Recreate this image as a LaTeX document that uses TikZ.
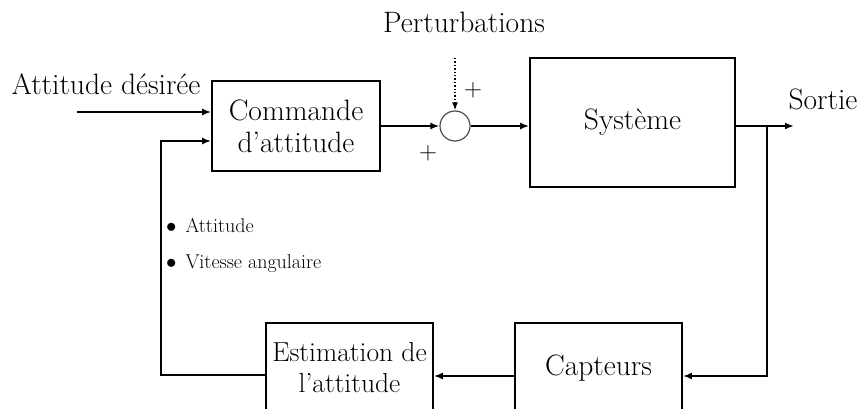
\documentclass[tikz,border=0pt]{standalone}
\usetikzlibrary{arrows.meta}
\begin{document}
\begin{tikzpicture}[x=1pt,y=-1pt,
  blk/.style={draw,line width=1.8pt,align=center,inner sep=0pt,font=\fontsize{29.5}{32}\selectfont},
  wire/.style={line width=1.8pt},
  arr/.style={wire,-{Latex[length=9pt,width=7pt]}},
  lbl/.style={font=\fontsize{29.5}{33}\selectfont,inner sep=0pt},
  small/.style={font=\fontsize{20}{24}\selectfont,inner sep=0pt,anchor=base west}]
\useasboundingbox (0,0) rectangle (861,409);
\clip (0,0) rectangle (861,409);
% blocks
\node[blk,minimum width=168pt,minimum height=90pt] (cmd) at (296,126) {Commande\\d'attitude};
\node[draw=black!70,line width=1.2pt,circle,minimum size=30pt,inner sep=0pt] (sum) at (455,126) {};
\node[blk,minimum width=205pt,minimum height=129pt] (sys) at (632.5,122.5) {Système};
\node[blk,minimum width=167pt,minimum height=90pt] (cap) at (598.5,368) {Capteurs};
\node[blk,minimum width=167pt,minimum height=90pt,font=\fontsize{27.5}{31}\selectfont] (est) at (349.5,368) {Estimation de\\l'attitude};
% labels
\node[lbl,anchor=base] (pert) at (464,33) {Perturbations};
\node[lbl,anchor=base] (att) at (106,95) {Attitude désirée};
\node[lbl,anchor=base] (sortie) at (823,110) {Sortie};
\node[lbl] (p1) at (473,90) {$+$};
\node[lbl] (p2) at (428,153) {$+$};
\node[small] (b1) at (166,232) {$\bullet$\hspace{9pt}Attitude};
\node[small] (b2) at (166,268) {$\bullet$\hspace{9pt}Vitesse angulaire};
% coordinates
\coordinate (in) at (77,112);
\coordinate (pin) at (455,58);
\coordinate (out) at (794,126);
\coordinate (br) at (767,126);
\coordinate (brd) at (767,376);
\coordinate (fb1) at (161,375);
\coordinate (fb2) at (161,141);
% connectors
\draw[arr] (in) -- (in -| cmd.west);
\draw[arr] (cmd.east |- sum) -- (sum.west);
\draw[arr,line width=1.4pt,dotted,-{Latex[length=8pt,width=6pt]}] (pin) -- (sum.north);
\draw[arr] (sum.east) -- (sum -| sys.west);
\draw[arr] (sys.east |- out) -- (out);
\draw[arr] (br) -- (brd) -- (brd -| cap.east);
\draw[arr] (brd -| cap.west) -- (brd -| est.east);
\draw[arr] (fb1 -| est.west) -- (fb1) -- (fb2) -- (fb2 -| cmd.west);
\end{tikzpicture}
\end{document}
